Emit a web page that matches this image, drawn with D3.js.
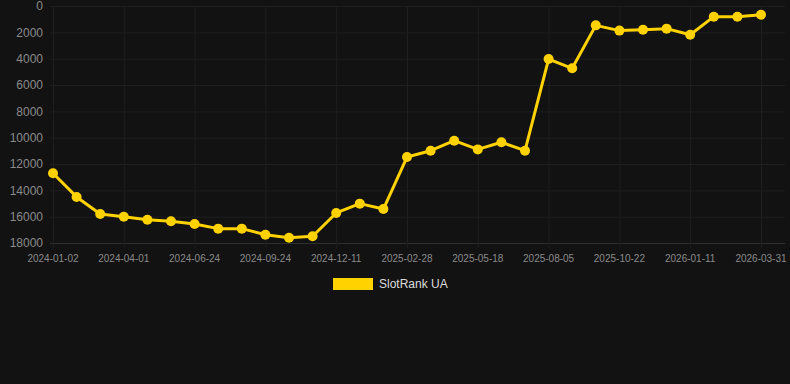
<!DOCTYPE html>
<html>
<head>
<meta charset="utf-8">
<script src="https://cdn.jsdelivr.net/npm/d3@7"></script>
<style>
html,body{margin:0;padding:0;background:#121212;}
svg{display:block;}
</style>
</head>
<body>
<svg id="chart" width="790" height="384"></svg>
<script>
const seriesName = "SlotRank UA";
const tickLabels = ["2024-01-02","2024-04-01","2024-06-24","2024-09-24","2024-12-11","2025-02-28","2025-05-18","2025-08-05","2025-10-22","2026-01-11","2026-03-31"];
const rankValues = [12700,14500,15800,16000,16230,16350,16560,16910,16910,17370,17600,17490,15720,15010,15420,11470,10990,10230,10890,10350,10990,4030,4730,1470,1870,1800,1720,2180,810,810,660];
const yTicks = [0,2000,4000,6000,8000,10000,12000,14000,16000,18000];

(function(){
const svg = d3.select("#chart");
const plotLeft = 53, plotRight = 785, plotTop = 6, plotBottom = 243, lastX = 761;
const idx = rankValues.map((d,i)=>i);

const x = d3.scalePoint().domain(idx).range([plotLeft, lastX]);
const y = d3.scaleLinear().domain([0,18000]).range([plotTop, plotBottom]);

const grid = svg.append("g");
grid.selectAll("line.h").data(yTicks).enter().append("line")
  .attr("x1", plotLeft-3).attr("x2", plotRight)
  .attr("y1", d=>y(d)+0.5).attr("y2", d=>y(d)+0.5)
  .attr("stroke", d=> d===18000 ? "#2e2e2e" : "#1f1f1f").attr("stroke-width",1);
const tickIdx = tickLabels.map((d,i)=>i*3);
grid.selectAll("line.v").data(tickIdx).enter().append("line")
  .attr("x1", d=>x(d)+0.5).attr("x2", d=>x(d)+0.5)
  .attr("y1", plotTop).attr("y2", plotBottom+5)
  .attr("stroke", "#1f1f1f").attr("stroke-width",1);

svg.append("g").selectAll("text").data(yTicks).enter().append("text")
  .attr("x", 43).attr("y", d=>y(d)).attr("dy","0.35em")
  .attr("text-anchor","end")
  .attr("font-family","Liberation Sans, Arial, sans-serif")
  .attr("font-size", 12).attr("fill","#8a8a8a")
  .text(d=>d);

svg.append("g").selectAll("text").data(tickLabels).enter().append("text")
  .attr("x", (d,i)=>x(i*3)).attr("y", 262)
  .attr("text-anchor","middle")
  .attr("font-family","Liberation Sans, Arial, sans-serif")
  .attr("font-size", 10).attr("fill","#8a8a8a")
  .text(d=>d);

const color = "#ffd200";
const line = d3.line().x((d,i)=>x(i)).y(d=>y(d));
svg.append("path").datum(rankValues)
  .attr("d", line).attr("fill","none")
  .attr("stroke", color).attr("stroke-width", 3).attr("stroke-linejoin","round");
svg.append("g").selectAll("circle").data(rankValues).enter().append("circle")
  .attr("cx",(d,i)=>x(i)).attr("cy", d=>y(d)).attr("r",5).attr("fill",color);

svg.append("rect").attr("x",333).attr("y",278).attr("width",40).attr("height",12).attr("fill",color);
svg.append("text").attr("x",379).attr("y",284).attr("dy","0.35em")
  .attr("font-family","Liberation Sans, Arial, sans-serif")
  .attr("font-size",12).attr("fill","#dddddd").text(seriesName);
})();
</script>
</body>
</html>
